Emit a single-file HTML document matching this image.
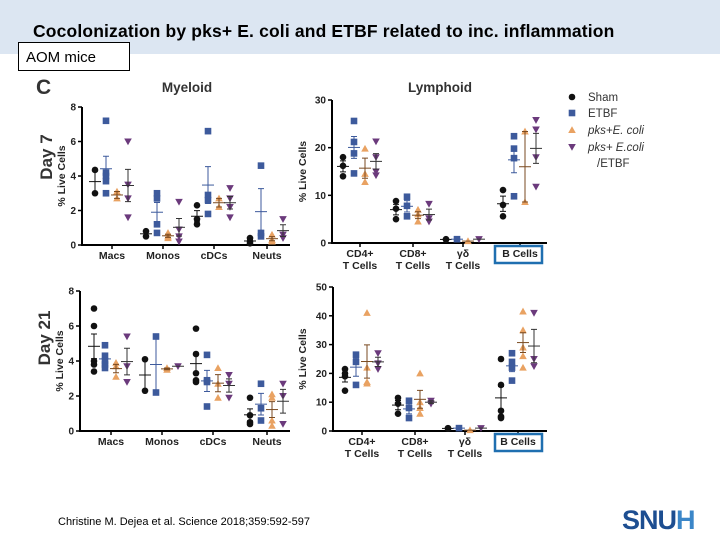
<!DOCTYPE html>
<html><head><meta charset="utf-8">
<style>
body{margin:0;width:720px;height:540px;overflow:hidden;background:#fff;font-family:"Liberation Sans",sans-serif;position:relative}
#hdr{position:absolute;left:0;top:0;width:720px;height:54px;background:#dce6f2}
#title{position:absolute;left:33px;top:21px;font-size:17.5px;letter-spacing:0.15px;font-weight:bold;color:#000;white-space:nowrap}
#aom{position:absolute;left:18px;top:42px;width:112px;height:29px;border:1px solid #000;background:#fff;font-size:15px;line-height:29px;padding-left:7px;box-sizing:border-box}
#foot{position:absolute;left:58px;top:516px;font-size:11px}
#logo{position:absolute;left:622px;top:505px;font-size:27px;font-weight:bold;color:#1d4e91;letter-spacing:-1px}
#logo span{color:#3b86c8}
svg{position:absolute;left:0;top:0}
</style></head><body>
<div id="hdr"></div>
<div id="title">Cocolonization by pks+ E. coli and ETBF related to inc. inflammation</div>
<div id="aom">AOM mice</div>
<div id="foot">Christine M. Dejea et al. Science 2018;359:592-597</div>
<div id="logo">SNU<span>H</span></div>
<svg id="chart" width="720" height="540"></svg>
<script>
const groups=["Sham","ETBF","pks+E. coli","pks+ E.coli /ETBF"];
const myeloidCats=["Macs","Monos","cDCs","Neuts"];
const lymphoidCats=[["CD4+","T Cells"],["CD8+","T Cells"],["γδ","T Cells"],["B Cells"]];
const myeloidTicks=[0,2,4,6,8];
const lymphD7Ticks=[0,10,20,30];
const lymphD21Ticks=[0,10,20,30,40,50];
const d7Myeloid=[
 [[4.35,3.0],[7.2,4.2,4.0,3.7,3.0],[3.1,2.7],[6.0,3.5,2.7,1.6]],
 [[0.8,0.5],[3.0,2.7,1.2,0.7],[0.7,0.5,0.4],[2.5,0.9,0.5,0.2]],
 [[2.3,1.5,1.2],[6.6,2.9,2.6,1.8],[2.7,2.2],[3.3,2.7,2.2,1.6]],
 [[0.4,0.2,0.1],[4.6,0.7,0.5],[0.6,0.3,0.2],[1.5,0.6,0.4]]];
const d7Lymphoid=[
 [[18,16.2,14],[25.6,21.2,18.8,14.6],[19.8,14.5,12.8],[21.3,18,15,14.2]],
 [[8.8,7.2,5],[9.7,7.8,5.6],[7,6,4.5],[8.2,5.2,4.5]],
 [[0.8,0.7],[0.8],[0.4],[0.8]],
 [[11.1,8,5.6],[22.4,19.8,17.8,9.8],[23.4,8.6],[25.8,23.8,18,11.8]]];
const d21Myeloid=[
 [[7.0,6.0,4.0,3.8,3.4],[4.9,4.3,4.0,3.8,3.6],[3.9,3.7,3.1],[5.4,3.7,2.8]],
 [[4.1,2.3],[5.4,2.2],[3.6,3.5],[3.7]],
 [[5.85,4.4,3.3,2.9,2.8],[4.35,2.9,2.8,1.4],[3.6,2.7,1.9],[3.2,2.7,1.9]],
 [[1.9,0.9,0.5,0.4],[2.7,1.3,0.6],[2.1,1.9,0.6,0.3],[2.7,2.0,0.4]]];
const d21Lymphoid=[
 [[21.5,20,19,14],[26.5,24,16],[41,22,17,16.5],[27,23.5,21.5]],
 [[11.5,9.5,6],[10.5,8,4.5],[20,10,8,6],[10.5,9.5]],
 [[1.0,0.8],[1.0],[0.3],[1.0]],
 [[25,16,7,5,4.5],[27,24,22,17.5],[41.5,35,29,26,22],[41,25,22.5]]];

const colors=["#111","#3d5a9c","#e9a262","#6b3a7c"];
const barCol=["#111","#3d5a9c","#7a4a20","#333"];
const NS="http://www.w3.org/2000/svg";
const svg=document.getElementById('chart');
function mk(tag,a,parent){const e=document.createElementNS(NS,tag);for(const k in a)e.setAttribute(k,a[k]);(parent||svg).appendChild(e);return e;}
function txt(x,y,s,a,parent){const t=mk('text',Object.assign({x:x,y:y,'font-family':'Liberation Sans, sans-serif'},a),parent);t.textContent=s;return t;}
function marker(g,x,y,gi){
 let e;
 if(gi===0){e=mk('circle',{cx:x,cy:y,r:3.3,fill:colors[0]},g);}
 else if(gi===1){e=mk('rect',{x:x-3.3,y:y-3.3,width:6.6,height:6.6,fill:colors[1]},g);}
 else if(gi===2){e=mk('polygon',{points:`${x},${y-3.8} ${x+3.8},${y+3} ${x-3.8},${y+3}`,fill:colors[2]},g);}
 else {e=mk('polygon',{points:`${x-3.8},${y-3} ${x+3.8},${y-3} ${x},${y+3.8}`,fill:colors[3]},g);}
 return e;
}
const offs=[-17,-6,5,16];
function panel(p){
 const g=mk('g',{});
 
 
 const max=p.ticks[p.ticks.length-1];
 const yS=v=>p.y0-(v/max)*(p.y0-p.yTop);
 const ax=mk('line',{x1:p.ax,y1:p.yTop,x2:p.ax,y2:p.y0,stroke:'#000','stroke-width':2},g);
 
 
 const xa=mk('line',{x1:p.ax-1,y1:p.y0,x2:p.xEnd,y2:p.y0,stroke:'#000','stroke-width':2},g);
 
 
 p.ticks.forEach(t=>{
  mk('line',{x1:p.ax-4,y1:yS(t),x2:p.ax,y2:yS(t),stroke:'#000','stroke-width':1.5},g);
  const tl=txt(p.ax-6,yS(t)+3.5,String(t),{'font-size':10,'font-weight':'bold','text-anchor':'end',fill:'#222'},g);
  
  
 });
 p.cats.forEach((c,ci)=>{
  const cx=p.cx[ci];
  mk('line',{x1:cx,y1:p.y0,x2:cx,y2:p.y0+4,stroke:'#000','stroke-width':1.5},g);
  const lines=Array.isArray(c)?c:[c];
  lines.forEach((s,li)=>{
   const cl=txt(cx,p.y0+14+li*12,s,{'font-size':10.5,'font-weight':'bold','text-anchor':'middle',fill:'#222'},g);
   
   
  });
  p.data[ci].forEach((vals,gi)=>{
   const x=cx+offs[gi];
   const n=vals.length;
   const mean=vals.reduce((a,b)=>a+b,0)/n;
   let sem=0;
   if(n>1){const sd=Math.sqrt(vals.reduce((a,b)=>a+(b-mean)*(b-mean),0)/(n-1));sem=sd/Math.sqrt(n);}
   vals.forEach(v=>{
    const m=marker(g,x,yS(v),gi);
    
    
   });
   const mb=mk('line',{x1:x-6,y1:yS(mean),x2:x+6,y2:yS(mean),stroke:barCol[gi],'stroke-width':1},g);
   
   
   if(sem>0){
    const eb=mk('path',{d:`M${x},${yS(mean+sem)}V${yS(mean-sem)}M${x-3},${yS(mean+sem)}h6M${x-3},${yS(mean-sem)}h6`,stroke:barCol[gi],'stroke-width':1,fill:'none'},g);
    
    
   }
  });
 });
 const yl=txt(0,0,'% Live Cells',{'font-size':10.5,'font-weight':'bold','text-anchor':'middle',fill:'#222',transform:`translate(${p.ylx},${(p.y0+p.yTop)/2}) rotate(-90)`},g);
 
 
 if(p.box){
  const b=mk('rect',{x:495,y:p.y0+3,width:47,height:17,fill:'none',stroke:'#1f6fb0','stroke-width':2.5},g);
  
  
 }
}
panel({name:'day7-myeloid-plot',ax:82,y0:245,yTop:107,xEnd:290,ticks:myeloidTicks,cats:myeloidCats,cx:[112,163,214,267],data:d7Myeloid,ylx:65});
panel({name:'day7-lymphoid-plot',ax:332,y0:243,yTop:100,xEnd:547,ticks:lymphD7Ticks,cats:lymphoidCats,cx:[360,413,463,520],data:d7Lymphoid,ylx:306,box:true});
panel({name:'day21-myeloid-plot',ax:80,y0:431,yTop:291,xEnd:290,ticks:myeloidTicks,cats:myeloidCats,cx:[111,162,213,267],data:d21Myeloid,ylx:63});
panel({name:'day21-lymphoid-plot',ax:333,y0:431,yTop:287,xEnd:547,ticks:lymphD21Ticks,cats:lymphoidCats,cx:[362,415,465,518],data:d21Lymphoid,ylx:306,box:true});

const c=txt(36,94,'C',{'font-size':21,'font-weight':'bold',fill:'#333'});


const t1=txt(187,92,'Myeloid',{'font-size':13.5,'font-weight':'bold','text-anchor':'middle',fill:'#333'});


const t2=txt(440,92,'Lymphoid',{'font-size':13.5,'font-weight':'bold','text-anchor':'middle',fill:'#333'});


const d7=txt(0,0,'Day 7',{'font-size':17,'font-weight':'bold',fill:'#333','text-anchor':'middle',transform:'translate(52,157) rotate(-90)'});


const d21=txt(0,0,'Day 21',{'font-size':17,'font-weight':'bold',fill:'#333','text-anchor':'middle',transform:'translate(50,338) rotate(-90)'});



const legY=[97,113,130,147];
groups.forEach((gname,gi)=>{
 const lg=mk('g',{});
 
 
 marker(lg,572,legY[gi],gi);
 const italic=gi>=2?'italic':'normal';
 if(gi===3){
  txt(588,legY[gi]+4,'pks+ E.coli',{'font-size':11.5,'font-style':'italic',fill:'#333'},lg);
  txt(597,legY[gi]+20,'/ETBF',{'font-size':11.5,fill:'#333'},lg);
 } else {
  txt(588,legY[gi]+4,gname,{'font-size':11.5,'font-style':italic,fill:'#333'},lg);
 }
});
</script>
</body></html>
